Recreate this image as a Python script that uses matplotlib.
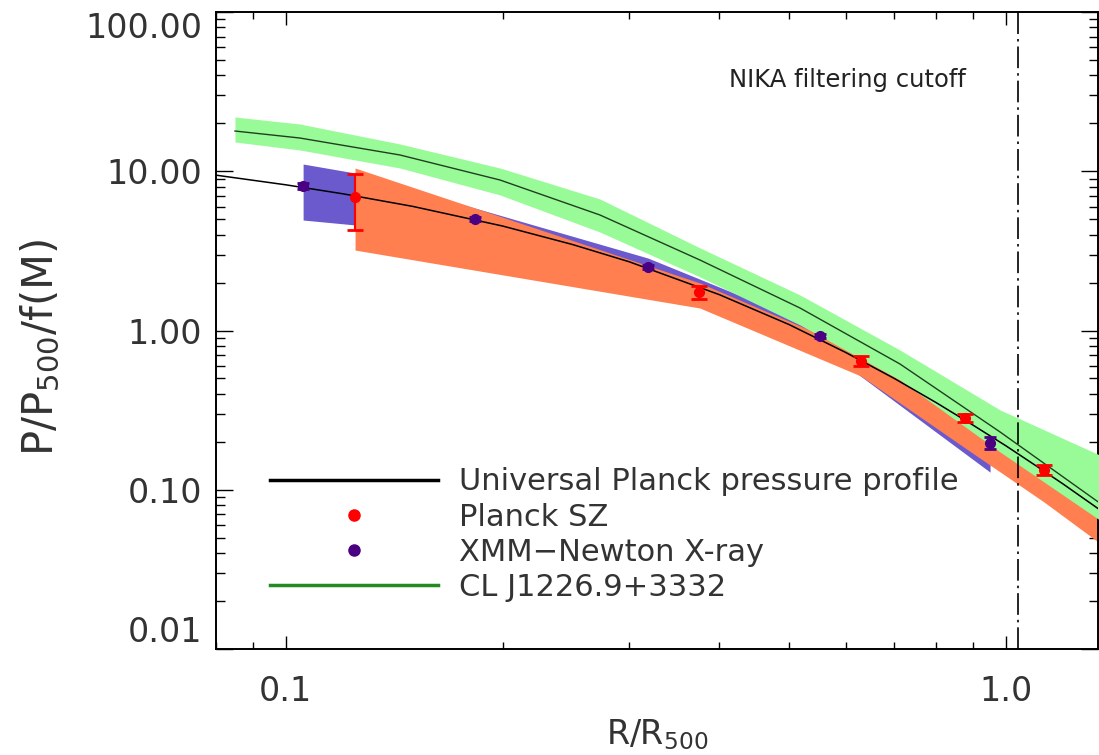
import matplotlib as mpl
mpl.use('Agg')
import matplotlib.pyplot as plt
from matplotlib.ticker import NullFormatter
from matplotlib.lines import Line2D

plt.rcParams['font.family'] = ['DejaVu Sans']
plt.rcParams['mathtext.default'] = 'regular'

# universal Planck pressure profile (black line)
upp_r = [0.08, 0.1, 0.12, 0.15, 0.2, 0.25, 0.3, 0.4, 0.5, 0.6, 0.7, 0.8, 0.9, 1.0, 1.1, 1.2, 1.35]
upp_p = [9.45, 8.22, 7.22, 6.02, 4.53, 3.47, 2.70, 1.68, 1.09, 0.726, 0.500, 0.353, 0.255, 0.189, 0.142, 0.109, 0.075]

# Planck SZ points
sz_r = [0.1248, 0.375, 0.629, 0.878, 1.13]
sz_p = [6.89, 1.745, 0.643, 0.282, 0.133]
sz_lo = [2.6, 0.17, 0.048, 0.017, 0.009]
sz_hi = [2.7, 0.17, 0.048, 0.017, 0.009]

# XMM-Newton points
xmm_r = [0.1057, 0.183, 0.3185, 0.552, 0.951]
xmm_p = [8.08, 5.01, 2.51, 0.924, 0.197]
xmm_err = [0.3, 0.15, 0.08, 0.03, 0.016]

# XMM envelope
xband_r = [0.1057, 0.1248, 0.183, 0.3185, 0.552, 0.951]
xband_hi = [11.1, 9.75, 5.88, 2.85, 1.037, 0.205]
xband_lo = [4.94, 4.60, 3.70, 1.93, 0.799, 0.129]

# Planck SZ envelope
pband_r = [0.1248, 0.376, 0.629, 0.878, 1.13, 1.35]
pband_hi = [10.48, 1.988, 0.733, 0.317, 0.158, 0.0901]
pband_lo = [3.20, 1.384, 0.518, 0.183, 0.0838, 0.0463]

# CL J1226.9+3332 profile and envelope
cl_r = [0.085, 0.1046, 0.1441, 0.1984, 0.2732, 0.3761, 0.5179, 0.713, 0.982, 1.35]
cl_p = [17.89, 16.17, 12.65, 8.81, 5.31, 2.77, 1.384, 0.616, 0.2305, 0.0826]
cl_hi = [21.91, 19.80, 14.83, 10.48, 6.69, 3.30, 1.671, 0.754, 0.317, 0.1653]
cl_lo = [15.27, 13.60, 10.48, 7.10, 4.15, 2.17, 1.083, 0.489, 0.1726, 0.0646]

nika_cut = 1.04

txt = '#333333'

fig = plt.figure(figsize=(10.99, 7.55), dpi=100)
ax = fig.add_axes([216/1099, 1-649/755, 882/1099, 637/755])
ax.set_xscale('log')
ax.set_yscale('log')

ax.fill_between(xband_r, xband_lo, xband_hi, color='#6A5ACD', lw=0, zorder=1)
ax.fill_between(pband_r, pband_lo, pband_hi, color='#FF7F50', lw=0, zorder=2)
ax.fill_between(cl_r, cl_lo, cl_hi, color='#98FB98', lw=0, zorder=3)
ax.plot(cl_r, cl_p, color='#1f3f1f', lw=1.0, zorder=4)
ax.plot(upp_r, upp_p, color='black', lw=1.1, zorder=5)

ax.errorbar(xmm_r, xmm_p, yerr=xmm_err, fmt='o', color='#4B0082', ms=7,
            elinewidth=1.5, capsize=4, capthick=2, zorder=6)
ax.errorbar(sz_r, sz_p, yerr=[sz_lo, sz_hi], fmt='o', color='#FF0000', ms=7,
            elinewidth=1.5, capsize=6, capthick=2, zorder=7)

ax.axvline(nika_cut, color='black', lw=1.2, linestyle=(0, (13, 3, 1.5, 3)), zorder=8)
ax.text(0.582, 0.893, 'NIKA filtering cutoff', transform=ax.transAxes,
        fontsize=17.5, color='#222222', ha='left', va='center')

ax.set_xlim(0.08, 1.343)
ax.set_ylim(0.01, 100)

ax.set_xticks([0.1, 1.0])
ax.set_xticklabels(['0.1', '1.0'])
ax.set_yticks([0.01, 0.1, 1, 10, 100])
ax.set_yticklabels(['0.01', '0.10', '1.00', '10.00', '100.00'])
ax.xaxis.set_minor_formatter(NullFormatter())
ax.yaxis.set_minor_formatter(NullFormatter())

ax.tick_params(which='both', direction='in', top=True, right=True, width=1.0, colors='black',
               labelcolor=txt, labelsize=24)
ax.tick_params(axis='y', which='major', length=12, pad=10)
ax.tick_params(axis='y', which='minor', length=6.5)
ax.tick_params(axis='x', which='major', length=9.5, pad=19)
ax.tick_params(axis='x', which='minor', length=5)
for s in ax.spines.values():
    s.set_linewidth(1.4)

yl = ax.get_yticklabels()
yl[0].set_verticalalignment('bottom')
yl[-1].set_verticalalignment('top')

ax.set_xlabel(r'R/R$_{500}$', fontsize=24, color=txt)
ax.xaxis.set_label_coords(0.5, -0.108)
ax.set_ylabel(r'P/P$_{500}$/f(M)', fontsize=30, color=txt)
ax.yaxis.set_label_coords(-0.175, 0.4725)

handles = [Line2D([], [], color='black', lw=2.5),
           Line2D([], [], color='#FF0000', marker='o', ls='none', ms=8),
           Line2D([], [], color='#4B0082', marker='o', ls='none', ms=8),
           Line2D([], [], color='#228B22', lw=2.5)]
labels = ['Universal Planck pressure profile', 'Planck SZ',
          'XMM\u2212Newton X-ray', 'CL J1226.9+3332']
leg = ax.legend(handles, labels, loc='upper left', bbox_to_anchor=(0.0612, 0.285),
                frameon=False, fontsize=22, handlelength=5.5, handletextpad=0.7,
                labelspacing=0.2, borderpad=0, borderaxespad=0)
for t in leg.get_texts():
    t.set_color(txt)
leg.set_zorder(10)

plt.savefig('out.png', dpi=100)
plt.close()
